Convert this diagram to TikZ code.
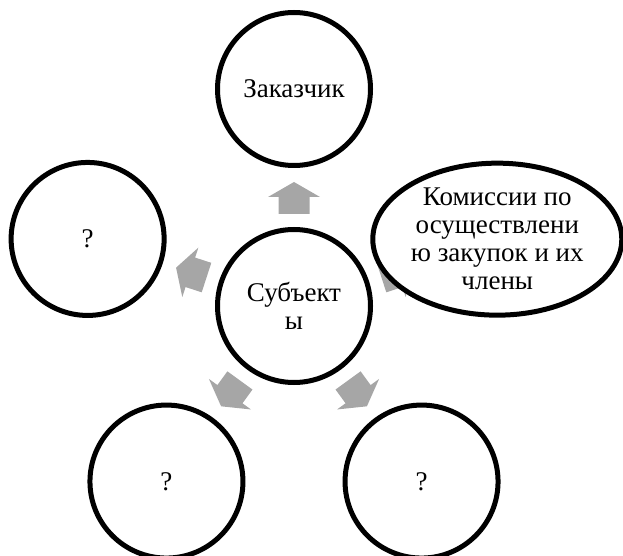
\documentclass[tikz,border=0pt]{standalone}
\usepackage{fontspec}
\setmainfont{Liberation Serif}
\usetikzlibrary{shapes.geometric,calc}
\definecolor{arrowgray}{RGB}{166,166,166}

\begin{document}
\begin{tikzpicture}[x=1pt,y=1pt,
		every node/.style={font=\fontsize{27}{28}\selectfont, align=center},
		roundbox/.style={circle, draw, line width=5pt, fill=white, minimum size=153pt, inner sep=0pt},
		ovalbox/.style={ellipse, draw, line width=5pt, fill=white, minimum width=249pt, minimum height=152pt, inner sep=0pt},
		blockarrow/.style={fill=arrowgray}]
	% Fix the page size
	\useasboundingbox (0,0) rectangle (623,555);
	
	% Centre of the cycle
	\coordinate (mid) at (294,249);
	
	% Gray block arrows pointing outward
	\foreach \ang in {90,162,234,306,18}
		\fill[blockarrow, shift={(mid)}, rotate=\ang] (92,-15.5) -- (109,-15.5) -- (109,-26) -- (124,0) -- (109,26) -- (109,15.5) -- (92,15.5) -- cycle;
	
	% Centre circle
	\node[roundbox] (subj) at (mid) {Субъект\\ы};
	
	% Outer circles and the oval
	\node[roundbox] (client) at ($(mid)+(90:217)$) {Заказчик};
	\node[roundbox] (leftq) at ($(mid)+(162:217)$) {?};
	\node[roundbox] (lowleftq) at ($(mid)+(234:217)$) {?};
	\node[roundbox] (lowrightq) at ($(mid)+(306:217)$) {?};
	\node[ovalbox] (comm) at ($(mid)+(18.2:214)$) {Комиссии по\\осуществлени\\ю закупок и их\\члены};
\end{tikzpicture}
\end{document}
